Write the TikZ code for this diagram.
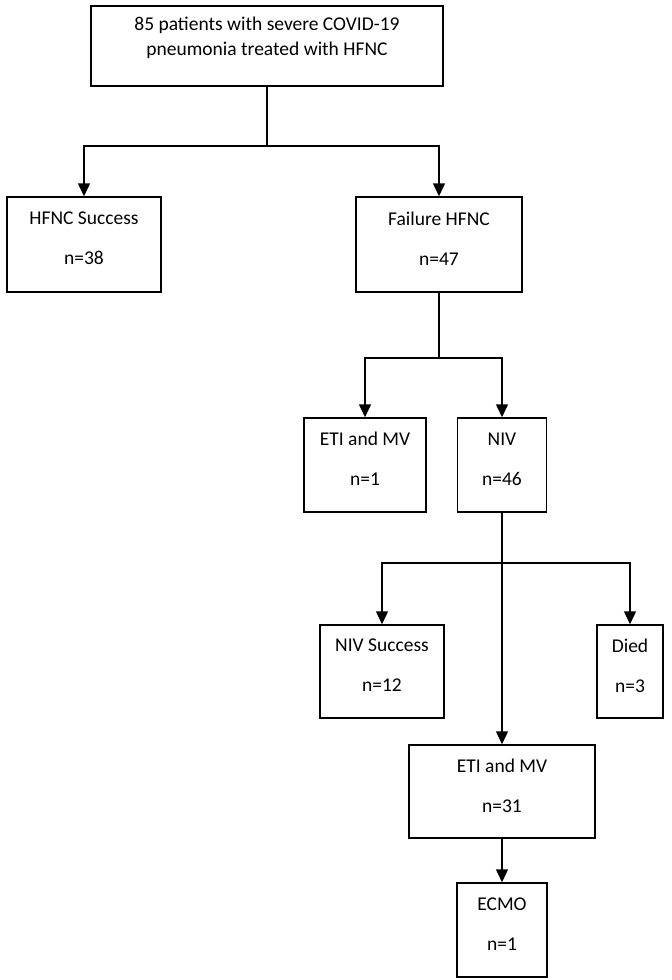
\documentclass[tikz,border=0pt]{standalone}
\usepackage{fontspec}
\setmainfont{Carlito}
\usetikzlibrary{arrows.meta}

\begin{document}
\begin{tikzpicture}[x=1pt,y=-1pt,
box/.style={draw,line width=1.5pt,align=center,inner sep=0pt,text depth=12pt,
  font=\fontsize{19.5}{25}\selectfont},
arr/.style={-{Triangle[length=13pt,width=12pt]}},
link/.style={line width=1.5pt}]

\useasboundingbox (0,0) rectangle (672,980);

\node[box,minimum width=352,minimum height=80,text depth=19pt] (top) at (267,46)
{85 patients with severe COVID-19\\pneumonia treated with HFNC};

\node[box,minimum width=154,minimum height=95] (hfncok) at (84,244.5) {HFNC Success\\[15pt]n=38};
\node[box,minimum width=166,minimum height=95] (hfncfail) at (439,244.5) {Failure HFNC\\[15pt]n=47};

\node[box,minimum width=122,minimum height=94] (eti1) at (365,465) {ETI and MV\\[15pt]n=1};
\node[box,minimum width=89,minimum height=94] (niv) at (502,465) {NIV\\[15pt]n=46};

\node[box,minimum width=124,minimum height=93] (nivok) at (382,671.5) {NIV Success\\[15pt]n=12};
\node[box,minimum width=66,minimum height=93] (died) at (630,671.5) {Died\\[15pt]n=3};

\node[box,minimum width=186,minimum height=93] (eti2) at (502,791.5) {ETI and MV\\[15pt]n=31};
\node[box,minimum width=90,minimum height=94] (ecmo) at (502,930) {ECMO\\[15pt]n=1};

\coordinate (j1) at (267,146);
\coordinate (j2) at (439,358);
\coordinate (j3) at (502,563);

\draw[link] (top.south) -- (j1);
\draw[link,arr] (j1) -| (hfncok.north);
\draw[link,arr] (j1) -| (hfncfail.north);

\draw[link] (hfncfail.south) -- (j2);
\draw[link,arr] (j2) -| (eti1.north);
\draw[link,arr] (j2) -| (niv.north);

\draw[link] (niv.south) -- (j3);
\draw[link,arr] (j3) -| (nivok.north);
\draw[link,arr] (j3) -| (died.north);
\draw[link,arr] (j3) -- (eti2.north);

\draw[link,arr] (eti2.south) -- (ecmo.north);
\end{tikzpicture}
\end{document}
